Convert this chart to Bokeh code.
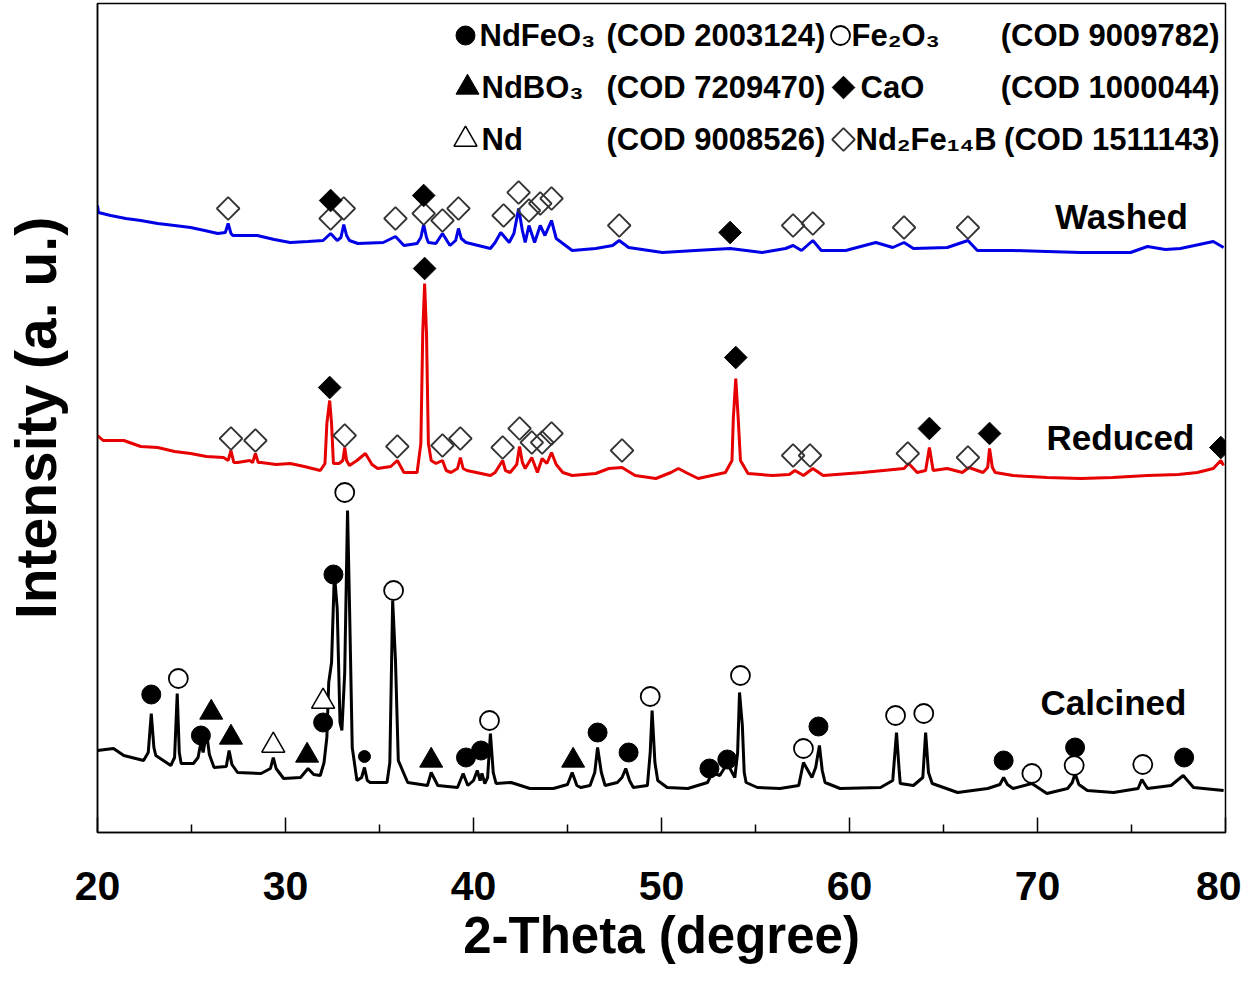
import math
from bokeh.plotting import figure
from bokeh.models import FixedTicker, Range1d
from bokeh.core.properties import value
from bokeh.embed import file_html
from bokeh.resources import INLINE

# ---------------- data (2-theta in degree, intensity in a.u.) ----------------
calc_2theta = [20.0, 20.85, 21.4, 22.45, 22.7, 22.86, 23.0, 23.1, 23.9, 24.1, 24.24, 24.35, 24.45, 25.1, 25.35,
               25.5, 25.62, 25.8, 25.95, 26.2, 26.85, 27.0, 27.15, 27.45, 28.7, 29.2, 29.35, 29.5, 29.9, 30.8,
               31.2, 31.5, 31.85, 32.05, 32.2, 32.3, 32.45, 32.6, 32.75, 32.9, 33.0, 33.15, 33.3, 33.4, 33.55,
               33.8, 34.05, 34.2, 34.35, 34.5, 35.4, 35.55, 35.7, 35.85, 36.0, 36.5, 37.55, 37.75, 38.1, 39.15,
               39.45, 39.7, 40.0, 40.2, 40.35, 40.45, 40.6, 40.75, 40.9, 41.05, 41.2, 42.0, 43.0, 44.25, 45.0,
               45.25, 45.5, 45.7, 46.2, 46.45, 46.6, 46.8, 47.0, 47.65, 47.9, 48.1, 48.3, 48.5, 49.25, 49.4,
               49.5, 49.65, 49.8, 50.3, 51.4, 52.45, 52.7, 53.1, 53.5, 53.9, 54.05, 54.15, 54.3, 54.4, 54.5,
               55.1, 56.3, 57.3, 57.55, 58.0, 58.2, 58.4, 58.55, 58.7, 59.5, 61.65, 62.3, 62.5, 62.65, 62.7,
               63.4, 63.9, 64.05, 64.2, 64.4, 65.75, 67.35, 68.0, 68.2, 68.4, 68.7, 69.7, 70.5, 71.6, 71.85,
               72.0, 72.2, 72.65, 74.05, 75.35, 75.55, 75.85, 77.1, 77.75, 78.3, 79.9]
calc_int = [82, 84, 77, 72, 80, 119, 85, 77, 67, 75, 139, 80, 69, 69, 75,
            90, 80, 100, 78, 65, 66, 82, 68, 60, 59, 64, 75, 64, 54, 55,
            64, 58, 57, 70, 95, 150, 170, 259, 224, 110, 102, 160, 322, 232, 85,
            52, 55, 65, 52, 50, 50, 70, 232, 172, 72, 50, 47, 60, 47, 45,
            59, 47, 52, 62, 52, 59, 49, 55, 99, 60, 49, 50, 44, 44, 48,
            60, 47, 45, 47, 60, 85, 60, 47, 50, 55, 64, 52, 45, 47, 80,
            122, 70, 52, 45, 44, 50, 60, 57, 69, 55, 80, 140, 107, 60, 50,
            45, 44, 47, 70, 55, 65, 87, 62, 50, 44, 45, 52, 100, 60, 49,
            47, 55, 100, 60, 49, 40, 44, 48, 55, 48, 44, 49, 39, 44, 50,
            59, 48, 42, 40, 44, 53, 44, 47, 57, 45, 42]

red_2theta = [20.0, 20.3, 21.4, 22.3, 23.2, 24.1, 24.95, 25.8, 26.7, 26.95, 27.1, 27.25, 27.45, 28.1, 28.25,
              28.4, 28.55, 28.7, 29.5, 30.25, 31.0, 31.85, 32.1, 32.2, 32.35, 32.45, 32.55, 32.85, 33.05, 33.15,
              33.25, 33.4, 33.8, 34.25, 34.6, 34.9, 35.6, 35.95, 36.3, 37.0, 37.2, 37.3, 37.4, 37.5, 37.6,
              37.75, 38.0, 38.35, 38.55, 38.8, 39.15, 39.3, 39.45, 39.65, 40.9, 41.15, 41.55, 41.7, 41.95, 42.3,
              42.45, 42.6, 42.75, 43.1, 43.4, 43.65, 43.9, 44.15, 44.4, 44.75, 45.25, 46.5, 47.2, 47.9, 48.6,
              49.7, 50.5, 50.9, 51.3, 51.95, 53.4, 53.75, 53.82, 53.95, 54.08, 54.2, 54.6, 55.9, 56.8, 57.1,
              57.55, 58.05, 58.6, 60.7, 62.9, 63.15, 63.6, 64.05, 64.25, 64.45, 65.2, 66.0, 66.35, 67.1, 67.35,
              67.45, 67.6, 67.75, 68.7, 70.5, 72.3, 74.0, 75.85, 77.5, 78.5, 79.35, 79.75, 79.9]
red_int = [397, 392, 392, 386, 385, 381, 379, 376, 375, 372, 382, 370, 370, 372, 370,
           379, 370, 370, 368, 369, 366, 362, 369, 409, 432, 409, 369, 369, 372, 385,
           372, 367, 372, 379, 368, 364, 366, 372, 360, 360, 389, 499, 549, 499, 389,
           372, 369, 372, 362, 360, 364, 375, 364, 362, 357, 360, 372, 362, 360, 368,
           386, 370, 364, 375, 360, 374, 369, 380, 368, 360, 357, 359, 364, 365, 357,
           354, 360, 364, 360, 354, 360, 372, 414, 454, 414, 372, 359, 357, 358, 362,
           357, 364, 357, 360, 364, 369, 360, 362, 385, 362, 364, 360, 365, 360, 365,
           384, 365, 360, 357, 355, 354, 355, 357, 358, 360, 364, 372, 367]

wash_2theta = [20.0, 20.05, 20.7, 21.5, 22.3, 23.2, 24.1, 24.95, 25.7, 26.4, 26.8, 26.95, 27.1, 27.2, 28.5,
               29.4, 30.25, 31.2, 32.0, 32.4, 32.75, 32.95, 33.1, 33.25, 33.4, 33.85, 35.2, 35.85, 36.3, 37.0,
               37.2, 37.35, 37.5, 37.6, 38.0, 38.35, 38.75, 39.05, 39.2, 39.35, 39.6, 40.9, 41.15, 41.45, 41.9,
               42.15, 42.4, 42.6, 42.75, 42.95, 43.25, 43.55, 43.8, 44.15, 44.4, 45.25, 46.5, 47.4, 47.75, 48.25,
               50.05, 51.8, 53.65, 55.35, 56.6, 57.0, 57.45, 58.05, 58.5, 59.8, 61.4, 62.3, 62.9, 63.4, 65.2,
               66.3, 66.8, 68.7, 70.5, 72.3, 74.95, 75.85, 76.8, 77.6, 79.35, 79.9]
wash_int = [627, 620, 617, 614, 612, 609, 607, 605, 602, 599, 600, 609, 599, 597, 597,
            593, 590, 591, 592, 599, 592, 595, 608, 597, 592, 589, 590, 596, 587, 589,
            595, 608, 595, 590, 589, 599, 587, 592, 604, 594, 590, 584, 590, 600, 590,
            599, 624, 602, 590, 607, 590, 607, 597, 612, 594, 582, 584, 587, 592, 585,
            580, 582, 584, 580, 584, 587, 582, 592, 582, 582, 590, 585, 590, 584, 585,
            592, 582, 582, 581, 580, 580, 586, 583, 584, 591, 585]

# phase markers: 2-theta and height
calc_ndfeo3_x = [22.86, 25.5, 32.0, 32.55, 39.6, 40.4, 46.6, 48.25, 52.55, 53.5, 58.35, 68.2, 72.0, 77.8]
calc_ndfeo3_y = [138, 97, 110, 258, 75, 82, 100, 80, 64, 73, 106, 72, 85, 75]
calc_ndfeo3_weak_x = [34.2]
calc_ndfeo3_weak_y = [76]
calc_fe2o3_x = [24.3, 33.15, 35.75, 40.85, 49.4, 54.2, 57.55, 62.45, 63.95, 69.7, 71.95, 75.6]
calc_fe2o3_y = [154, 340, 242, 112, 136, 157, 84, 117, 119, 59, 67, 68]
calc_ndbo3_x = [26.05, 27.1, 31.15, 37.75, 45.3]
calc_ndbo3_y = [120, 95, 77, 72, 72]
calc_nd_x = [29.35, 32.0]
calc_nd_y = [87, 131]

red_nd2fe14b_x = [27.1, 28.4, 33.15, 35.95, 38.35, 39.3, 41.55, 42.45, 43.1, 43.65, 44.15, 47.9, 57.0, 57.9, 63.1, 66.3]
red_nd2fe14b_y = [394, 392, 397, 386, 387, 394, 385, 404, 390, 390, 399, 382, 377, 377, 379, 375]
red_cao_x = [32.35, 37.4, 53.95, 64.25, 67.45, 79.75]
red_cao_y = [445, 564, 475, 404, 399, 385]

wash_nd2fe14b_x = [26.95, 32.4, 33.1, 35.85, 37.35, 38.35, 39.2, 41.6, 42.4, 42.95, 43.55, 44.15, 47.75, 57.0, 58.05, 62.9, 66.3]
wash_nd2fe14b_y = [624, 614, 624, 614, 619, 612, 624, 617, 640, 622, 629, 634, 607, 607, 609, 605, 605]
wash_cao_x = [32.4, 37.35, 53.65]
wash_cao_y = [632, 637, 600]

sample_names = ["Washed", "Reduced", "Calcined"]
phase_names = ["NdFeO\u2083", "NdBO\u2083", "Nd", "Fe\u2082O\u2083", "CaO", "Nd\u2082Fe\u2081\u2084B"]
cod_ids = ["(COD 2003124)", "(COD 7209470)", "(COD 9008526)",
           "(COD 9009782)", "(COD 1000044)", "(COD 1511143)"]
x_ticks = [20, 30, 40, 50, 60, 70, 80]
x_minor = [25, 35, 45, 55, 65, 75]

# ---------------- figure ----------------
FONT = "Liberation Sans"

p = figure(frame_width=1128, frame_height=829, output_backend="svg", toolbar_location=None,
           x_range=Range1d(20, 80), y_range=Range1d(0, 829),
           min_border_left=97, min_border_right=16, min_border_top=3, min_border_bottom=135)
p.background_fill_color = "white"
p.border_fill_color = "white"
p.grid.visible = False
p.outline_line_color = "black"
p.outline_line_width = 1.5

# x axis
p.xaxis.ticker = FixedTicker(ticks=x_ticks, minor_ticks=x_minor)
p.xaxis.major_tick_in = 15
p.xaxis.major_tick_out = 0
p.xaxis.minor_tick_in = 8
p.xaxis.minor_tick_out = 0
p.xaxis.axis_line_width = 1.5
p.xaxis.major_tick_line_width = 1.5
p.xaxis.minor_tick_line_width = 1.5
p.xaxis.major_label_text_font = FONT
p.xaxis.major_label_text_font_style = "bold"
p.xaxis.major_label_text_font_size = "41px"
p.xaxis.major_label_text_color = "black"
p.xaxis.major_label_standoff = 39
p.xaxis.axis_label = "2-Theta (degree)"
p.xaxis.axis_label_text_font = FONT
p.xaxis.axis_label_text_font_style = "bold"
p.xaxis.axis_label_text_font_size = "51px"
p.xaxis.axis_label_text_color = "black"
p.xaxis.axis_label_standoff = 4

# y axis (label kept inside the 97 px left border)
p.yaxis.ticker = FixedTicker(ticks=[])
p.yaxis.major_tick_in = 0
p.yaxis.major_tick_out = 0
p.yaxis.minor_tick_in = 0
p.yaxis.minor_tick_out = 0
p.yaxis.axis_line_width = 1.5
p.yaxis.axis_label = "Intensity (a. u.)"
p.yaxis.axis_label_text_font = FONT
p.yaxis.axis_label_text_font_style = "bold"
p.yaxis.axis_label_text_font_size = "57px"
p.yaxis.axis_label_text_color = "black"
p.yaxis.axis_label_standoff = 30

# traces
p.line(wash_2theta, wash_int, line_color="#0000e6", line_width=3)
p.line(red_2theta, red_int, line_color="#e60000", line_width=3)
p.line(calc_2theta, calc_int, line_color="black", line_width=3)

DIAG = 16  # side of the 45-degree rotated square (diamond)
def filled_circle(x, y, size=19):
    p.scatter(x, y, marker="circle", size=size, fill_color="black", line_color="black", line_width=1)
def open_circle(x, y, size=19):
    p.scatter(x, y, marker="circle", size=size, fill_color="white", line_color="black", line_width=1.8)
def filled_tri(x, y, size=23):
    p.scatter(x, y, marker="triangle", size=size, fill_color="black", line_color="black", line_width=1)
def open_tri(x, y, size=23):
    p.scatter(x, y, marker="triangle", size=size, fill_color="white", line_color="black", line_width=1.5)
def filled_dia(x, y, size=DIAG):
    p.scatter(x, y, marker="square", angle=math.pi / 4, size=size, fill_color="black", line_color="black", line_width=1)
def open_dia(x, y, size=DIAG):
    p.scatter(x, y, marker="square", angle=math.pi / 4, size=size, fill_color="white",
              fill_alpha=0.0, line_color="#333333", line_width=1.8)

# calcined markers
filled_circle(calc_ndfeo3_x, calc_ndfeo3_y)
filled_circle(calc_ndfeo3_weak_x, calc_ndfeo3_weak_y, size=12)
open_circle(calc_fe2o3_x, calc_fe2o3_y)
filled_tri(calc_ndbo3_x, calc_ndbo3_y)
open_tri(calc_nd_x, calc_nd_y)
# reduced markers
open_dia(red_nd2fe14b_x, red_nd2fe14b_y)
filled_dia(red_cao_x, red_cao_y)
# washed markers
open_dia(wash_nd2fe14b_x, wash_nd2fe14b_y)
filled_dia(wash_cao_x, wash_cao_y)

# ---------- layout helpers (picture pixel -> data) ----------
def dx(px):
    return 20 + (px - 97) * 60.0 / 1128.0
def dy(py):
    return 832 - py

# sample labels
p.text([dx(1121), dx(1120), dx(1113)], [dy(216), dy(437), dy(702)], text=sample_names,
       text_font=value(FONT), text_font_style="bold", text_font_size="35px",
       text_align="center", text_baseline="middle", text_color="black")

# legend
rows = [dy(35), dy(87), dy(139)]
filled_circle([dx(465)], [rows[0]])
filled_tri([dx(467)], [rows[1]])
open_tri([dx(465)], [rows[2]])
open_circle([dx(840)], [rows[0]])
filled_dia([dx(843)], [rows[1]])
open_dia([dx(843)], [rows[2]])

LEG = dict(text_font=value(FONT), text_font_style="bold", text_font_size="31px",
           text_baseline="middle", text_color="black")
p.text([dx(479), dx(481), dx(481)], rows, text=phase_names[:3], text_align="left", **LEG)
p.text([dx(606)] * 3, rows, text=cod_ids[:3], text_align="left", **LEG)
p.text([dx(851), dx(860), dx(855)], rows, text=phase_names[3:], text_align="left", **LEG)
p.text([dx(1219)] * 3, rows, text=cod_ids[3:], text_align="right", **LEG)

open("out.html", "w").write(file_html(p, INLINE))
